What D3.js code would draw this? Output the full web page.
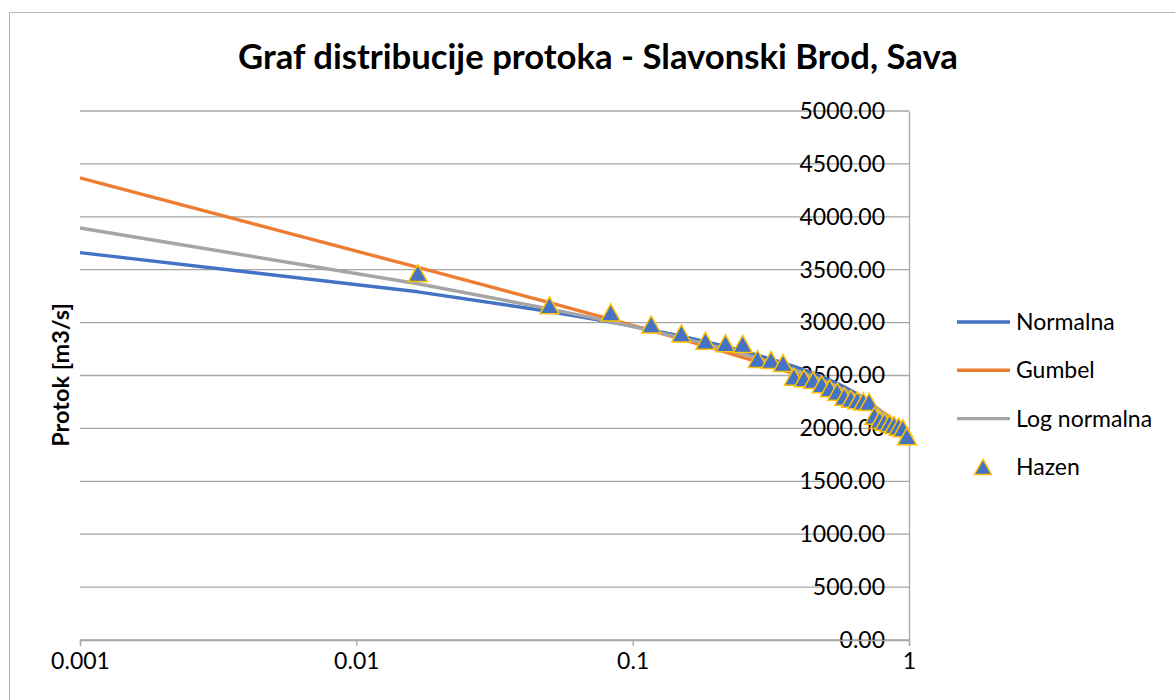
<!DOCTYPE html>
<html>
<head>
<meta charset="utf-8">
<script src="https://cdn.jsdelivr.net/npm/d3@7"></script>
<style>
  body { margin: 0; background: #fff; }
  text { font-family: Lato, "Open Sans", sans-serif; fill: #000; }
</style>
</head>
<body>
<svg id="viz"></svg>
<script>
var width = 1175;
var height = 700;

// Hazen plotting positions (i - 0.5) / 30 and observed flows
var hazenP = [0.0167, 0.05, 0.0833, 0.1167, 0.15, 0.1833, 0.2167, 0.25, 0.2833, 0.3167,
              0.35, 0.3833, 0.4167, 0.45, 0.4833, 0.5167, 0.55, 0.5833, 0.6167, 0.65,
              0.6833, 0.7167, 0.75, 0.7833, 0.8167, 0.85, 0.8833, 0.9167, 0.95, 0.9833];
var hazenQ = [3468, 3163, 3095, 2982, 2897, 2828, 2804, 2798, 2656, 2647,
              2618, 2489, 2473, 2457, 2417, 2379, 2347, 2300, 2280, 2265,
              2255, 2250, 2120, 2079, 2063, 2048, 2032, 2016, 2001, 1925];

// probabilities for the distribution lines
var lineP = [0.001, 0.0167, 0.05, 0.0833, 0.1167, 0.15, 0.1833, 0.2167, 0.25, 0.2833,
             0.3167, 0.35, 0.3833, 0.4167, 0.45, 0.4833, 0.5167, 0.55, 0.5833, 0.6167,
             0.65, 0.6833, 0.7167, 0.75, 0.7833, 0.8167, 0.85, 0.8833, 0.9167];
var normalQ = [3661, 3291, 3105, 3004, 2931, 2871, 2819, 2774, 2732, 2692,
               2655, 2620, 2586, 2553, 2520, 2488, 2456, 2424, 2391, 2358,
               2324, 2289, 2252, 2212, 2170, 2125, 2073, 2013, 1940];
var gumbelQ = [4367, 3522, 3188, 3030, 2924, 2843, 2777, 2721, 2672, 2628,
               2588, 2551, 2517, 2484, 2453, 2423, 2394, 2366, 2339, 2312,
               2284, 2257, 2230, 2201, 2172, 2141, 2107, 2070, 2026];
var logNormalQ = [3894, 3367, 3130, 3009, 2923, 2855, 2798, 2748, 2704, 2662,
                  2624, 2588, 2554, 2521, 2489, 2457, 2426, 2396, 2365, 2335,
                  2304, 2272, 2239, 2205, 2169, 2131, 2088, 2039, 1982];

var xTicks = [0.001, 0.01, 0.1, 1];
var yTicks = [0, 500, 1000, 1500, 2000, 2500, 3000, 3500, 4000, 4500, 5000];

var seriesNames = ["Normalna", "Gumbel", "Log normalna"];
var seriesColors = ["#4472C4", "#ED7D31", "#A5A5A5"];
var seriesValues = [normalQ, gumbelQ, logNormalQ];

var svg = d3.select("#viz")
  .attr("width", width)
  .attr("height", height);

// chart frame
svg.append("rect")
  .attr("x", 9.5)
  .attr("y", 12.5)
  .attr("width", 1190)
  .attr("height", 700)
  .attr("fill", "#fff")
  .attr("stroke", "#b4b4b4");

var plotLeft = 80, plotRight = 909, plotTop = 111, plotBottom = 640;

var x = d3.scaleLog()
  .domain([0.001, 1])
  .range([plotLeft, plotRight]);

var y = d3.scaleLinear()
  .domain([0, 5000])
  .range([plotBottom, plotTop]);

// gridlines
svg.append("g")
  .selectAll("line")
  .data(yTicks)
  .enter().append("line")
  .attr("x1", plotLeft)
  .attr("x2", plotRight)
  .attr("y1", function(d) { return y(d); })
  .attr("y2", function(d) { return y(d); })
  .attr("stroke", "#a6a6a6")
  .attr("stroke-width", 1.3);

// y axis sits at x = 1
var yAxis = svg.append("g")
  .attr("transform", "translate(" + plotRight + ",0)")
  .call(d3.axisLeft(y).tickValues(yTicks).tickSize(0).tickPadding(24)
    .tickFormat(d3.format(".2f")));
yAxis.select(".domain").attr("stroke", "#a6a6a6").attr("stroke-width", 1.3);
yAxis.selectAll("text").style("font-size", "23px").attr("fill", "#000");

var xAxis = svg.append("g")
  .attr("transform", "translate(0," + plotBottom + ")")
  .call(d3.axisBottom(x).tickValues(xTicks).tickSize(6).tickPadding(7)
    .tickFormat(d3.format("~g")));
xAxis.select(".domain").attr("stroke", "#a6a6a6").attr("stroke-width", 1.3);
xAxis.selectAll("line").attr("stroke", "#a6a6a6").attr("stroke-width", 1.3);
xAxis.selectAll("text").style("font-size", "23px").attr("fill", "#000");

// distribution lines
var line = d3.line()
  .x(function(d) { return x(d[0]); })
  .y(function(d) { return y(d[1]); });

seriesValues.forEach(function(vals, i) {
  var pts = lineP.map(function(p, j) { return [p, vals[j]]; });
  svg.append("path")
    .datum(pts)
    .attr("d", line)
    .attr("fill", "none")
    .attr("stroke", seriesColors[i])
    .attr("stroke-width", 3.4)
    .attr("stroke-linejoin", "round");
});

// Hazen markers
var tri = "M0,-8.5L9.5,8.5L-9.5,8.5Z";
svg.append("g")
  .selectAll("path")
  .data(hazenP)
  .enter().append("path")
  .attr("d", tri)
  .attr("transform", function(d, i) {
    return "translate(" + x(d) + "," + y(hazenQ[i]) + ")";
  })
  .attr("fill", "#4472C4")
  .attr("stroke", "#FFC000")
  .attr("stroke-width", 1.5);

// title
svg.append("text")
  .attr("x", 598)
  .attr("y", 69)
  .attr("text-anchor", "middle")
  .style("font-size", "34.7px")
  .style("font-weight", "bold")
  .text("Graf distribucije protoka - Slavonski Brod, Sava");

// y axis title
svg.append("text")
  .attr("transform", "translate(69,375) rotate(-90)")
  .attr("text-anchor", "middle")
  .style("font-size", "23.5px")
  .style("font-weight", "bold")
  .text("Protok [m3/s]");

// legend
var legend = svg.append("g")
  .attr("transform", "translate(957,322)");

var legendItems = seriesNames.concat(["Hazen"]);
var rows = legend.selectAll("g")
  .data(legendItems)
  .enter().append("g")
  .attr("transform", function(d, i) { return "translate(0," + i * 48.3 + ")"; });

rows.filter(function(d, i) { return i < 3; })
  .append("line")
  .attr("x1", 0)
  .attr("x2", 53)
  .attr("stroke", function(d, i) { return seriesColors[i]; })
  .attr("stroke-width", 3.4);

rows.filter(function(d, i) { return i === 3; })
  .append("path")
  .attr("d", "M0,-7.5L8.5,7.5L-8.5,7.5Z")
  .attr("transform", "translate(26,0)")
  .attr("fill", "#4472C4")
  .attr("stroke", "#FFC000")
  .attr("stroke-width", 1.5);

rows.append("text")
  .attr("x", 59)
  .attr("dy", "0.35em")
  .style("font-size", "23px")
  .text(function(d) { return d; });
</script>
</body>
</html>
